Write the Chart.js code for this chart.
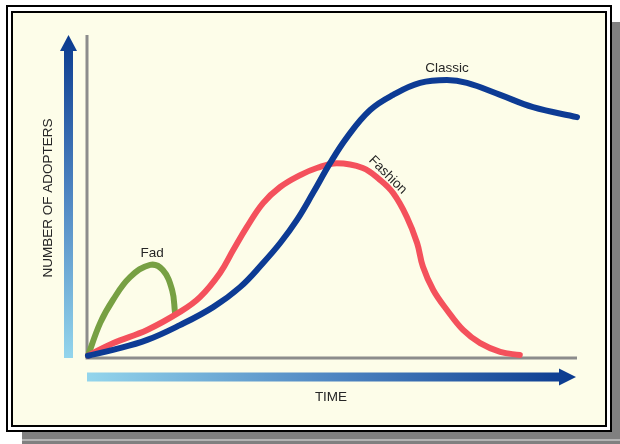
<!DOCTYPE html>
<html>
<head>
<meta charset="utf-8">
<script src="https://cdn.jsdelivr.net/npm/chart.js@4"></script>
<style>
  html, body { margin: 0; padding: 0; background: #fff; }
  #page { position: relative; width: 620px; height: 444px; overflow: hidden; }
  .shadow { position: absolute; left: 22px; top: 22px; width: 598px; height: 422px; background: #808080; }
  .shadow-line { position: absolute; left: 22px; top: 439px; width: 598px; height: 2px; background: #b4b4b4; }
  .outer { position: absolute; left: 6px; top: 5px; width: 606px; height: 427px; box-sizing: border-box; border: 2px solid #000; background: #fff; }
  .inner { position: absolute; left: 11px; top: 11px; width: 596px; height: 416px; box-sizing: border-box; border: 2px solid #000; background: #fdfde9; }
  canvas { position: absolute; left: 0; top: 0; }
</style>
</head>
<body>
<div id="page">
  <div class="shadow"></div>
  <div class="shadow-line"></div>
  <div class="outer"></div>
  <div class="inner"></div>
  <canvas id="myChart" width="620" height="444"></canvas>
</div>
<script>
// time (0-100) and number of adopters (0-100)
const classicTime = [0, 5.1, 12.1, 18.8, 25.6, 31.1, 35.8, 39.3, 42.7, 46, 49.5, 53, 57.7, 62.4, 67.9, 73.4, 77.5, 84.3, 91, 100];
const classicAdopters = [0.4, 2.2, 5.3, 9.9, 15.5, 21.7, 29.2, 35.4, 42.5, 50.9, 60.2, 68.3, 76.7, 81.4, 85.1, 86, 85.1, 81.4, 77.6, 74.5];

const fashionTime = [0, 5.1, 12.1, 18.8, 22.9, 27, 29.7, 32.5, 35.8, 39.3, 43.4, 46.8, 50.9, 56.2, 59.7, 62.4, 65.2, 67.3, 68.5, 70.6, 73.4, 76.7, 80.2, 84.3, 88.3];
const fashionAdopters = [0.4, 4.3, 8.4, 14, 18.6, 26.1, 33.2, 40.4, 47.8, 52.8, 56.5, 58.7, 60.2, 58.7, 55, 50.9, 43.5, 35.4, 28, 20.8, 14.6, 8.4, 4.3, 1.6, 0.6];

const fadTime = [0, 2.5, 5.1, 8.6, 12.7, 15.3, 17.2, 17.8];
const fadAdopters = [0.4, 10.6, 17.7, 24.8, 28.6, 27, 20.8, 13.7];

const toPoints = (xs, ys) => xs.map((x, i) => ({ x: x, y: ys[i] }));

const font = '"Liberation Sans", Arial, sans-serif';

const decorations = {
  id: 'decorations',
  beforeDatasetsDraw(chart) {
    const { ctx, chartArea: a } = chart;
    ctx.save();

    // axis lines
    ctx.strokeStyle = '#8c8c8c';
    ctx.lineWidth = 3;
    ctx.beginPath();
    ctx.moveTo(a.left - 1, a.top);
    ctx.lineTo(a.left - 1, a.bottom + 1);
    ctx.lineTo(a.right, a.bottom + 1);
    ctx.stroke();

    // vertical arrow
    const vx = a.left - 19.5;
    let g = ctx.createLinearGradient(0, a.bottom, 0, a.top);
    g.addColorStop(0, '#93d5ec');
    g.addColorStop(0.5, '#4f86c2');
    g.addColorStop(1, '#0a3a8f');
    ctx.fillStyle = g;
    ctx.beginPath();
    ctx.moveTo(vx - 4.5, a.bottom + 1);
    ctx.lineTo(vx - 4.5, a.top + 16);
    ctx.lineTo(vx - 8.5, a.top + 16);
    ctx.lineTo(vx, a.top);
    ctx.lineTo(vx + 8.5, a.top + 16);
    ctx.lineTo(vx + 4.5, a.top + 16);
    ctx.lineTo(vx + 4.5, a.bottom + 1);
    ctx.closePath();
    ctx.fill();

    // horizontal arrow
    const hy = a.bottom + 20;
    const tip = a.right - 1;
    g = ctx.createLinearGradient(a.left, 0, tip, 0);
    g.addColorStop(0, '#93d5ec');
    g.addColorStop(0.5, '#4f86c2');
    g.addColorStop(1, '#0a3a8f');
    ctx.fillStyle = g;
    ctx.beginPath();
    ctx.moveTo(a.left - 1, hy - 4.5);
    ctx.lineTo(tip - 17, hy - 4.5);
    ctx.lineTo(tip - 17, hy - 8.5);
    ctx.lineTo(tip, hy);
    ctx.lineTo(tip - 17, hy + 8.5);
    ctx.lineTo(tip - 17, hy + 4.5);
    ctx.lineTo(a.left - 1, hy + 4.5);
    ctx.closePath();
    ctx.fill();

    // axis titles
    ctx.fillStyle = '#262626';
    ctx.font = '13.5px ' + font;
    ctx.textAlign = 'center';
    ctx.textBaseline = 'middle';
    ctx.fillText('TIME', 331, hy + 20);
    ctx.translate(48, 198);
    ctx.rotate(-Math.PI / 2);
    ctx.fillText('NUMBER OF ADOPTERS', 0, 0);
    ctx.restore();
  },
  afterDatasetsDraw(chart) {
    const { ctx, scales: { x, y } } = chart;
    ctx.save();
    ctx.fillStyle = '#262626';
    ctx.font = '13.5px ' + font;
    ctx.textAlign = 'center';
    ctx.textBaseline = 'middle';
    ctx.fillText('Classic', x.getPixelForValue(73.4), y.getPixelForValue(89.8));
    ctx.fillText('Fad', x.getPixelForValue(13.1), y.getPixelForValue(32.3));
    ctx.translate(x.getPixelForValue(61.3), y.getPixelForValue(56.5));
    ctx.rotate(Math.PI / 4);
    ctx.fillText('Fashion', 0, 0);
    ctx.restore();
  }
};

const ctx = document.getElementById('myChart').getContext('2d');
new Chart(ctx, {
  type: 'line',
  data: {
    datasets: [
      {
        label: 'Classic',
        data: toPoints(classicTime, classicAdopters),
        borderColor: '#0d3b94',
      },
      {
        label: 'Fashion',
        data: toPoints(fashionTime, fashionAdopters),
        borderColor: '#f4515c',
      },
      {
        label: 'Fad',
        data: toPoints(fadTime, fadAdopters),
        borderColor: '#77a043',
      },
    ],
  },
  options: {
    responsive: false,
    animation: false,
    layout: { padding: { left: 88, right: 43, top: 35, bottom: 87 } },
    datasets: {
      line: {
        borderWidth: 6,
        pointRadius: 0,
        fill: false,
        clip: false,
        tension: 0.4,
        borderCapStyle: 'round',
        borderJoinStyle: 'round',
      },
    },
    plugins: {
      legend: { display: false },
      tooltip: { enabled: false },
    },
    scales: {
      x: { type: 'linear', min: 0, max: 100, display: false },
      y: { min: 0, max: 100, display: false },
    },
  },
  plugins: [decorations],
});
</script>
</body>
</html>
